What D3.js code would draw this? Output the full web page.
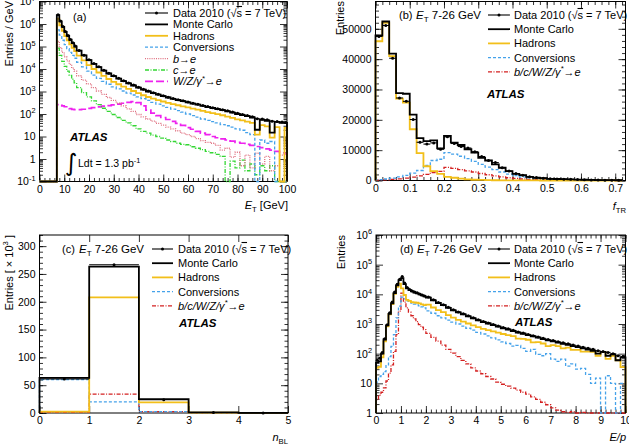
<!DOCTYPE html>
<html><head><meta charset="utf-8">
<script src="https://cdn.jsdelivr.net/npm/d3@7"></script>
<style>
body{margin:0;background:#fff}
svg{display:block;font-family:"Liberation Sans",Arial,sans-serif}
</style></head><body>
<svg width="629" height="446"></svg>
<script>
// (a) E_T spectrum, entries / GeV
let aEdges = [7,8,9,10,11,12,13,14,15,17,19,21,23,25,27,29,31,33,35,37,39,41,43,45,47,49,51,53,55,57,59,61,63,65,67,69,71,73,75,77,79,81,83,85,87,89,91,93,95,97,99,100]
let aMC = [2.5e6,1.3e6,7.5e5,4.5e5,3e5,2e5,1.4e5,1.0e5,
  6.5e4,4e4,2.5e4,1.7e4,1.2e4,8.5e3,6.3e3,4.8e3,3.7e3,2.9e3,2.3e3,1.85e3,1.5e3,1.2e3,1.0e3,850,720,620,540,470,420,370,330,290,260,230,205,185,165,150,130,115,100,90,80,70,20,55,50,15,45,40,
  40]
let aData = [2.6e6,1.35e6,7.7e5,4.6e5,3.05e5,2.05e5,1.45e5,1.04e5,
  6.7e4,4.1e4,2.6e4,1.75e4,1.25e4,8.8e3,6.5e3,5.0e3,3.85e3,3.0e3,2.4e3,1.95e3,1.55e3,1.25e3,1.05e3,880,750,650,560,490,430,385,340,300,270,240,215,190,172,155,138,122,108,96,85,76,62,60,55,48,46,44,
  42]
let aHad = [1.75e6,8.8e5,5e5,2.9e5,1.9e5,1.25e5,8.6e4,6.2e4,
  3.9e4,2.4e4,1.5e4,1.0e4,7e3,4.9e3,3.6e3,2.7e3,2.1e3,1.65e3,1.3e3,1.05e3,850,680,570,480,410,360,315,275,245,220,195,172,155,137,122,110,98,88,76,67,58,52,46,40,12,32,28,9,26,0,
  24]
let aConv = [5.5e5,3.2e5,1.9e5,1.2e5,8e4,5.5e4,4e4,3e4,
  2e4,1.25e4,8e3,5.3e3,3.8e3,2.8e3,2.1e3,1.6e3,1.3e3,1.05e3,850,700,580,480,400,330,275,230,195,165,140,120,100,85,72,60,52,46,40,34,30,26,22,19,15,12,0,7,5,6,0,0,
  0]
let aB = [1.7e5,9e4,5.5e4,3.5e4,2.3e4,1.6e4,1.1e4,8e3,
  5e3,3.2e3,2.2e3,1.5e3,1.05e3,750,540,400,300,230,170,130,95,75,60,48,38,32,26,22,18,14,12,10,8,6.5,5.5,5,4,2.5,3,1.2,2,0.5,1.5,0.4,1.8,0.6,1.3,0.3,0.5,1.5,
  1.5]
let aC = [8.5e4,4e4,2.2e4,1.3e4,8e3,5.2e3,3.5e3,2.4e3,
  1.5e3,900,580,380,260,180,130,95,70,52,40,30,22,17,14,11.5,10,8.5,7,6,5,4.5,4.3,3.5,3,2.6,2.2,1.9,1.6,1.3,0,0.8,0.4,0.9,0.3,0.6,0.2,0.5,0.3,0.5,0,0,
  0]
let aW = [260,250,230,210,190,172,162,156,
  155,163,178,193,208,222,238,255,275,300,330,355,320,230,150,110,85,70,57,47,38,31,25,21,17,14,12,10,8.8,7.8,7,6.2,5.5,5,4.5,4,3.6,3.2,2.8,2.5,2.2,1.9,
  1.7]

// (b) f_TR
let bEdges = [0,0.02,0.04,0.06,0.08,0.1,0.12,0.14,0.16,0.18,0.2,0.22,0.24,0.26,0.28,0.3,0.32,0.34,0.36,0.38,0.4,0.42,0.44,0.46,0.48,0.5,0.52,0.54,0.56,0.58,0.6,0.62,0.64,0.66,0.68,0.7,0.72]
let bMC = [47800,52400,41800,28800,28600,21700,14000,13000,13200,10600,14700,12500,11700,10300,9200,7500,6600,5300,4200,3100,2200,1800,1200,900,800,550,500,450,350,300,250,200,150,120,100,80]
let bData = [47500,51100,40300,27200,26100,20100,12600,12000,12400,10300,14400,12200,11200,10700,9500,7900,6600,5900,4200,3100,2300,1700,1250,950,780,600,530,430,380,300,230,200,160,120,90,70]
let bHad = [45900,52000,41000,27000,25700,16900,9000,4700,3100,2200,1200,900,600,400,250,180,120,80,60,40,30,20,15,10,8,6,5,4,3,2,2,1,1,1,0,0]
let bConv = [300,500,800,1200,1700,2400,3300,5000,6600,7000,9200,8700,8000,7200,6300,5300,4400,3600,2800,2100,1600,1200,900,650,450,320,250,180,130,100,80,60,50,40,30,25]
let bOther = [100,200,350,550,800,1100,1500,2000,2600,3000,4300,4000,3600,3200,2800,2300,1900,1500,1200,900,700,500,380,280,200,150,110,80,60,45,35,25,20,15,10,8]

// (c) n_BL, entries x 10^3
let cEdges = [0,1,2,3,4,5]
let cMC = [63,263,25,1,0.3]
let cData = [61,266.5,24,0.8,0.2]
let cHad = [2.5,208,19,0.8,0.1]
let cConv = [60,20,2.5,0.1,0]
let cOther = [1,34,2.5,0.1,0]

// (d) E/p
let dEdges = [0,0.1,0.2,0.3,0.4,0.5,0.6,0.7,0.8,0.9,1,1.1,1.2,1.3,1.4,1.5,1.6,1.7,1.8,1.9,2,2.2,2.4,2.6,2.8,3,3.2,3.4,3.6,3.8,4,4.2,4.4,4.6,4.8,5,5.2,5.4,5.6,5.8,6,6.2,6.4,6.6,6.8,7,7.2,7.4,7.6,7.8,8,8.2,8.4,8.6,8.8,9,9.2,9.4,9.6,9.8,10]
let dMC = [50,55,100,300,900,2200,5000,11000,20000,30000,35000,22000,16000,14000,12500,11500,10800,10000,9200,8500,
  7800,6300,5100,4300,3500,2900,2450,2100,1800,1550,1320,1170,1040,920,810,720,650,580,510,470,420,380,345,310,280,260,235,215,200,180,165,150,138,125,100,115,85,95,60,75]
let dData = [60,70,110,320,950,2400,5500,12000,22000,32000,40000,24000,17000,14500,13000,12000,11200,10300,9500,8800,
  8100,6600,5300,4450,3650,3000,2550,2200,1880,1620,1380,1220,1090,965,850,760,685,610,540,495,445,405,365,330,300,278,252,232,215,195,180,165,152,140,125,118,110,100,85,80]
let dHad = [33,36,75,260,830,2100,4700,10400,18000,23000,16000,9500,6500,6000,5500,5300,5200,4950,4620,4350,
  4500,3600,2950,2500,2000,1650,1380,1200,1040,900,780,690,625,565,510,460,420,390,320,315,295,240,245,220,180,195,180,150,160,135,135,118,118,115,85,115,67,85,60,35]
let dConv = [11,17,20,25,42,80,175,440,1600,4000,8000,7000,6000,5500,5100,4700,4400,4100,3800,3500,
  2750,2300,1900,1600,1350,1150,1000,850,720,620,520,460,400,340,290,250,220,180,190,150,120,140,95,85,100,65,55,65,38,45,30,32,20,10,15,0,18,10,0,10]
let dOther = [2.8,4,5,7,12,22,42,120,440,2700,11000,5500,3500,2500,1900,1500,1200,950,780,650,
  480,355,265,195,140,105,80,59,45,33,26,21,17,14,11,9.3,8,6.9,5.9,5,4.3,3.5,2.9,2.3,1.9,1.5,1.25,1.1,1.05,1.1,0.5,1.05,0.5,0.5,1.0,0.5,0.5,1.0,0.5,0.5]

let yellow = '#f2bf1a', blue = '#45a2ea', pink = '#df6f7f', green = '#33d633', magenta = '#ee22ee', red = '#d42020'
let fs = 10.5
let lfs = 11

let svg = d3.select('svg')

let rich = (t, parts, size) => {
  let shift = 0
  parts.forEach(p => {
    let s = Array.isArray(p) ? p[0] : p
    let st = Array.isArray(p) ? p[1].split(' ') : []
    let target = st.includes('sub') ? size * 0.3 : st.includes('sup') ? -size * 0.42 : 0
    let ts = t.append('tspan').text(s)
    if (target - shift !== 0) ts.attr('dy', target - shift)
    shift = target
    if (st.includes('it')) ts.attr('font-style', 'italic')
    if (st.includes('bf')) ts.attr('font-weight', 'bold')
    if (target) ts.attr('font-size', size * 0.7)
    if (st.includes('ov')) ts.style('text-decoration', 'overline')
  })
  return t
}

let label = (x, y, parts, size, anchor, rot) => {
  let t = svg.append('text').attr('font-size', size).attr('text-anchor', anchor || 'start')
  if (rot) t.attr('transform', `translate(${x},${y}) rotate(-90)`)
  else t.attr('x', x).attr('y', y)
  return rich(t, parts, size)
}

let supLog = d => {
  let e = Math.round(Math.log10(d))
  if (e === 0) return ['1']
  if (e === 1) return ['10']
  return ['10', [String(e), 'sup']]
}

let axes = (x, y, o) => {
  let [xl, xr] = x.range(), [yb, yt] = y.range()
  let mk = (gen, t, vals, size, fmt) => {
    let a = svg.append('g').attr('transform', t)
      .call(gen.tickValues(vals).tickSize(size).tickPadding(o.pad || 4).tickFormat(fmt || ''))
    a.attr('font-size', fs).attr('font-family', null)
    a.select('.domain').remove()
    a.selectAll('line').attr('stroke-width', 0.8)
    return a
  }
  mk(d3.axisBottom(x), `translate(0,${yb})`, o.xMajor, -7, o.xFmt)
  if (o.xMinor) mk(d3.axisBottom(x), `translate(0,${yb})`, o.xMinor, -3.5)
  mk(d3.axisTop(x), `translate(0,${yt})`, o.xMajor, -7)
  if (o.xMinor) mk(d3.axisTop(x), `translate(0,${yt})`, o.xMinor, -3.5)
  let ly = mk(d3.axisLeft(y), `translate(${xl},0)`, o.yMajor, -7, o.yRich ? d => '' : o.yFmt)
  if (o.yMinor) mk(d3.axisLeft(y), `translate(${xl},0)`, o.yMinor, -3.5)
  mk(d3.axisRight(y), `translate(${xr},0)`, o.yMajor, -7)
  if (o.yMinor) mk(d3.axisRight(y), `translate(${xr},0)`, o.yMinor, -3.5)
  if (o.yRich) ly.selectAll('.tick text').each(function (d) { rich(d3.select(this), o.yRich(d), fs) })
  svg.append('rect').attr('x', xl).attr('y', yt).attr('width', xr - xl).attr('height', yb - yt)
    .attr('fill', 'none').attr('stroke', '#000').attr('stroke-width', 1)
}

let hist = (x, y, edges, vals, floor, style, start) => {
  let pts = []
  if (start !== undefined) pts.push([start, floor])
  pts.push([edges[0], floor])
  vals.forEach((v, i) => pts.push([edges[i], Math.max(v, floor)]))
  pts.push([edges[edges.length - 1], Math.max(vals[vals.length - 1], floor)])
  pts.push([edges[edges.length - 1], floor])
  let line = d3.line().x(d => x(d[0])).y(d => y(d[1])).curve(d3.curveStepAfter)
  svg.append('path').attr('d', line(pts)).attr('fill', 'none')
    .attr('stroke', style.c).attr('stroke-width', style.w).attr('stroke-dasharray', style.dash || null)
}

let dataPts = (x, y, edges, vals, floor) => {
  let bins = vals.map((v, i) => ({ lo: edges[i], hi: edges[i + 1], v })).filter(b => b.v > floor)
  let g = svg.append('g')
  g.selectAll('line').data(bins).join('line')
    .attr('x1', d => x(d.lo)).attr('x2', d => x(d.hi)).attr('y1', d => y(d.v)).attr('y2', d => y(d.v))
    .attr('stroke', '#000').attr('stroke-width', 1.1)
  g.selectAll('circle').data(bins).join('circle')
    .attr('cx', d => x((d.lo + d.hi) / 2)).attr('cy', d => y(d.v)).attr('r', 1.5).attr('fill', '#000')
}

let sData = { c: '#000', w: 1.1, marker: true }
let sMC = { c: '#000', w: 1.8 }
let sHad = { c: yellow, w: 1.8 }
let sConv = { c: blue, w: 1.3, dash: '3,2' }
let sB = { c: pink, w: 1.3, dash: '1,1.2' }
let sC = { c: green, w: 1.3, dash: '4,1.5,1,1.5' }
let sW = { c: magenta, w: 1.7, dash: '8,3' }
let sOther = { c: red, w: 1.3, dash: '4,1.5,1,1.5' }

let dataLbl = ['Data 2010 (√', ['s', 'ov'], ' = 7 TeV)']
let otherLbl = [['b/c/W/Z/γ', 'it'], ['*', 'it sup'], ['→e', 'it']]
let etLbl = [['E', 'it'], ['T', 'sub'], ' 7-26 GeV']

let legend = (x0, x1, xt, y0, dy, items, size) => {
  items.forEach((it, i) => {
    let yy = y0 + i * dy
    svg.append('line').attr('x1', x0).attr('x2', x1).attr('y1', yy).attr('y2', yy)
      .attr('stroke', it.s.c).attr('stroke-width', it.s.w).attr('stroke-dasharray', it.s.dash || null)
    if (it.s.marker) svg.append('circle').attr('cx', (x0 + x1) / 2).attr('cy', yy).attr('r', 1.5)
    label(xt, yy + size * 0.36, it.l, size)
  })
}

let atlas = (x, y) => svg.append('text').attr('x', x).attr('y', y).attr('font-size', 11.5)
  .attr('font-weight', 'bold').attr('font-style', 'italic').text('ATLAS')

let stdItems = [
  { s: sData, l: dataLbl }, { s: sMC, l: ['Monte Carlo'] }, { s: sHad, l: ['Hadrons'] },
  { s: sConv, l: ['Conversions'] }, { s: sOther, l: otherLbl }]

// ---------- panel (a)
{
  let x = d3.scaleLinear().domain([0, 100]).range([39.5, 287])
  let y = d3.scaleLog().domain([0.1, 1e7]).range([181.5, 1.5])
  let logMinor = []
  for (let e = -1; e < 7; e++) for (let m = 2; m < 10; m++) logMinor.push(m * Math.pow(10, e))
  axes(x, y, {
    xMajor: d3.range(0, 101, 10), xMinor: d3.range(0, 101, 2), xFmt: d3.format('d'),
    yMajor: d3.range(-1, 8).map(e => Math.pow(10, e)), yMinor: logMinor, yRich: supLog
  })
  let fl = 0.1
  hist(x, y, aEdges, aW, fl, sW, 0)
  hist(x, y, aEdges, aC, fl, sC, 0)
  hist(x, y, aEdges, aB, fl, sB, 0)
  hist(x, y, aEdges, aConv, fl, sConv, 0)
  hist(x, y, aEdges, aHad, fl, sHad, 0)
  hist(x, y, aEdges, aMC, fl, sMC, 0)
  dataPts(x, y, aEdges, aData, fl)
  legend(145, 168, 173, 13, 11.4, [
    { s: sData, l: dataLbl }, { s: sMC, l: ['Monte Carlo'] }, { s: sHad, l: ['Hadrons'] },
    { s: sConv, l: ['Conversions'] }, { s: sB, l: [['b→e', 'it']] }, { s: sC, l: [['c→e', 'it']] },
    { s: sW, l: [['W/Z/γ', 'it'], ['*', 'it sup'], ['→e', 'it']] }], 11)
  label(73, 21, ['(a)'], 11)
  atlas(70, 141)
  svg.append('text').attr('x', 65).attr('y', 171).attr('font-size', 24).attr('font-family', 'DejaVu Sans').text('∫')
  label(78, 167, ['Ldt = 1.3 pb', ['-1', 'sup']], 10.5)
  label(288, 209, [['E', 'it'], ['T', 'sub'], ' [GeV]'], 11, 'end')
  label(13, 1, ['Entries / GeV'], 11, 'end', true)
}

// ---------- panel (b)
{
  let x = d3.scaleLinear().domain([0, 0.73]).range([375.5, 625.5])
  let y = d3.scaleLinear().domain([0, 59000]).range([180.5, 1.5])
  axes(x, y, {
    xMajor: d3.range(0, 8).map(i => i / 10), xMinor: d3.range(0, 37).map(i => i * 0.02),
    xFmt: d => d === 0 ? '0' : d3.format('.1f')(d),
    yMajor: d3.range(0, 60000, 10000), yMinor: d3.range(0, 59000, 2000), yFmt: d3.format('d')
  })
  hist(x, y, bEdges, bOther, 0, sOther)
  hist(x, y, bEdges, bConv, 0, sConv)
  hist(x, y, bEdges, bHad, 0, sHad)
  hist(x, y, bEdges, bMC, 0, sMC)
  dataPts(x, y, bEdges, bData, 0)
  legend(488, 510, 514, 15, 14.2, stdItems, lfs)
  label(399, 19, ['(b)'], 11)
  label(416, 19, etLbl, 11.5)
  atlas(487, 98)
  label(626, 210, [['f', 'it'], ['TR', 'sub']], 11, 'end')
  label(344, 1, ['Entries'], 11, 'end', true)
}

// ---------- panel (c)
{
  let x = d3.scaleLinear().domain([0, 5]).range([39.5, 288])
  let y = d3.scaleLinear().domain([0, 320]).range([413, 235])
  axes(x, y, {
    xMajor: d3.range(0, 6), xFmt: d3.format('d'),
    yMajor: d3.range(0, 301, 50), yMinor: d3.range(0, 321, 10), yFmt: d3.format('d')
  })
  hist(x, y, cEdges, cOther, 0, sOther)
  hist(x, y, cEdges, cConv, 0, sConv)
  hist(x, y, cEdges, cHad, 0, sHad)
  hist(x, y, cEdges, cMC, 0, sMC)
  dataPts(x, y, cEdges, cData, 0)
  legend(152, 173, 178, 249, 14.2, stdItems, lfs)
  label(62, 253, ['(c)'], 11)
  label(79, 253, etLbl, 11.5)
  atlas(179, 327)
  label(288, 441, [['n', 'it'], ['BL', 'sub']], 11, 'end')
  label(13, 235, ['Entries [ × 10', ['3', 'sup'], ' ]'], 11, 'end', true)
}

// ---------- panel (d)
{
  let x = d3.scaleLinear().domain([0, 10]).range([376, 625.5])
  let y = d3.scaleLog().domain([1, 1e6]).range([413, 235])
  let logMinor = []
  for (let e = 0; e < 6; e++) for (let m = 2; m < 10; m++) logMinor.push(m * Math.pow(10, e))
  axes(x, y, {
    xMajor: d3.range(0, 11), xMinor: d3.range(0, 51).map(i => i * 0.2), xFmt: d3.format('d'),
    yMajor: d3.range(0, 7).map(e => Math.pow(10, e)), yMinor: logMinor, yRich: supLog
  })
  let fl = 1
  hist(x, y, dEdges, dOther, fl, sOther)
  hist(x, y, dEdges, dConv, fl, sConv)
  hist(x, y, dEdges, dHad, fl, sHad)
  hist(x, y, dEdges, dMC, fl, sMC)
  dataPts(x, y, dEdges, dData, fl)
  legend(488, 510, 514, 249, 14.2, stdItems, lfs)
  label(400, 253, ['(d)'], 11)
  label(417, 253, etLbl, 11.5)
  atlas(515, 326)
  label(626, 441, [['E/p', 'it']], 11, 'end')
  label(345, 235, ['Entries'], 11, 'end', true)
}
</script>
</body></html>
